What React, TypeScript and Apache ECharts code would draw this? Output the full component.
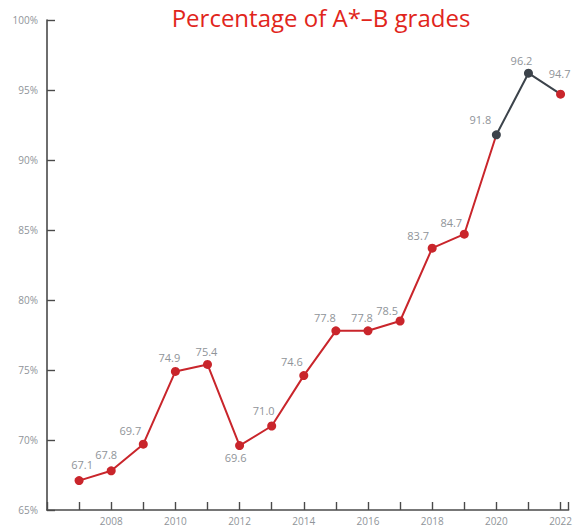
import React, { useEffect, useRef } from "react";
import * as echarts from "echarts";

const titleText = "Percentage of A*\u2013B grades";
const years = [2007, 2008, 2009, 2010, 2011, 2012, 2013, 2014, 2015, 2016, 2017, 2018, 2019, 2020, 2021, 2022];
const values = [67.1, 67.8, 69.7, 74.9, 75.4, 69.6, 71.0, 74.6, 77.8, 77.8, 78.5, 83.7, 84.7, 91.8, 96.2, 94.7];
const yTickValues = [65, 70, 75, 80, 85, 90, 95, 100];
const xLabelYears = [2008, 2010, 2012, 2014, 2016, 2018, 2020, 2022];
const darkSegmentStart = 2020;
const darkPointYears = [2020, 2021];

// label placement (style only): [dx, dy] from the point centre
const labelOffsets: number[][] = [
  [3, -16], [-5, -16], [-13, -14], [-6, -14], [-1, -13], [-4, 12], [-8, -16], [-12, -14],
  [-11, -13], [-6, -13], [-13, -11], [-14, -13], [-13, -12], [-16, -15], [-7, -13], [-1, -21],
];

const RED = "#c9252b";
const DARK = "#3c434b";
const GREY = "#8f9499";
const AXIS = "#4a4a4a";
const FONT = "'Open Sans', 'Noto Sans', sans-serif";

export default function App() {
  const ref = useRef<HTMLDivElement>(null);
  useEffect(() => {
    if (!ref.current) return;
    const chart = echarts.init(ref.current, undefined, { renderer: "svg" });

    const mkItem = (i: number, showLabel: boolean, color: string) => ({
      value: [years[i], values[i]],
      itemStyle: { color },
      label: {
        show: showLabel,
        position: "inside",
        offset: labelOffsets[i],
        formatter: () => values[i].toFixed(1),
      },
    });

    const redData: any[] = [];
    const darkData: any[] = [];
    years.forEach((y, i) => {
      const isDark = darkPointYears.includes(y);
      if (y <= darkSegmentStart) {
        redData.push({ ...mkItem(i, y < darkSegmentStart, RED), symbolSize: y < darkSegmentStart ? 9 : 0 });
      }
      if (y >= darkSegmentStart) {
        darkData.push(mkItem(i, true, isDark ? DARK : RED));
      }
    });

    const labelStyle = { color: GREY, fontSize: 11, fontFamily: FONT };

    chart.setOption({
      animation: false,
      backgroundColor: "#ffffff",
      textStyle: { fontFamily: FONT },
      graphic: [
        {
          type: "text",
          x: 321,
          y: 5,
          style: {
            text: titleText,
            fill: "#e1251b",
            font: `24px ${FONT}`,
            textAlign: "center",
            textVerticalAlign: "top",
          },
        },
      ],
      grid: { left: 47, right: 0, top: 20, bottom: 20, containLabel: false },
      xAxis: {
        type: "value",
        min: 2006,
        max: 2022.25,
        interval: 1,
        axisLine: { show: true, lineStyle: { color: AXIS, width: 1.6 } },
        axisTick: { show: true, inside: true, length: 8, lineStyle: { color: AXIS, width: 1.4 } },
        axisLabel: {
          color: GREY,
          fontSize: 10,
          fontFamily: FONT,
          margin: 6,
          formatter: (v: number) => (xLabelYears.includes(v) ? String(v) : ""),
        },
        splitLine: { show: false },
      },
      yAxis: {
        type: "value",
        min: yTickValues[0],
        max: yTickValues[yTickValues.length - 1],
        interval: 5,
        axisLine: { show: true, lineStyle: { color: AXIS, width: 1.6 } },
        axisTick: { show: true, inside: true, length: 8, lineStyle: { color: AXIS, width: 1.4 } },
        axisLabel: {
          color: GREY,
          fontSize: 10,
          fontFamily: FONT,
          margin: 9,
          formatter: (v: number) => (yTickValues.includes(v) ? `${v}%` : ""),
        },
        splitLine: { show: false },
      },
      series: [
        {
          type: "line",
          data: redData,
          symbol: "circle",
          symbolSize: 9,
          lineStyle: { color: RED, width: 2 },
          label: labelStyle,
          z: 2,
        },
        {
          type: "line",
          data: darkData,
          symbol: "circle",
          symbolSize: 9,
          lineStyle: { color: DARK, width: 2 },
          label: labelStyle,
          z: 3,
        },
      ],
    });
    return () => chart.dispose();
  }, []);
  return (
    <div
      ref={ref}
      style={{ position: "fixed", left: 0, top: 0, width: 575, height: 530, background: "#fff" }}
    />
  );
}
